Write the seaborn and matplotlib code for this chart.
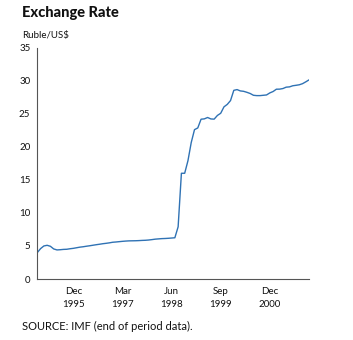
import matplotlib
matplotlib.use("Agg")
import matplotlib.pyplot as plt
import seaborn as sns
import pandas as pd

# Monthly end-of-period rubles per US dollar, Jan 1995 - Dec 2001
rate_1995 = [4.0, 4.6, 5.0, 5.1, 4.95, 4.55, 4.4, 4.43, 4.48, 4.5, 4.58, 4.64]
rate_1996 = [4.73, 4.82, 4.88, 4.96, 5.03, 5.11, 5.19, 5.26, 5.34, 5.40, 5.47, 5.56]
rate_1997 = [5.60, 5.65, 5.70, 5.74, 5.77, 5.78, 5.79, 5.81, 5.84, 5.86, 5.90, 5.96]
rate_1998 = [6.03, 6.07, 6.11, 6.13, 6.16, 6.20, 6.24, 7.9, 16.0, 16.0, 17.9, 20.65]
rate_1999 = [22.6, 22.86, 24.18, 24.23, 24.44, 24.22, 24.19, 24.75, 25.08, 26.05, 26.42, 27.0]
rate_2000 = [28.55, 28.66, 28.46, 28.4, 28.25, 28.07, 27.8, 27.75, 27.75, 27.8, 27.85, 28.16]
rate_2001 = [28.37, 28.72, 28.73, 28.82, 29.03, 29.07, 29.24, 29.31, 29.39, 29.56, 29.84, 30.14]

# Ticks every 15 months, counted from Jan 1995
tick_months = [11, 26, 41, 56, 71]
tick_labels = ["Dec\n1995", "Mar\n1997", "Jun\n1998", "Sep\n1999", "Dec\n2000"]
y_ticks = [0, 5, 10, 15, 20, 25, 30, 35]

rates = rate_1995 + rate_1996 + rate_1997 + rate_1998 + rate_1999 + rate_2000 + rate_2001
df = pd.DataFrame({"month": range(len(rates)), "rate": rates})

sns.set_style("white")
plt.rcParams["font.family"] = ["Lato", "DejaVu Sans"]

fig = plt.figure(figsize=(3.53, 3.40), dpi=100)
ax = fig.add_axes([0.1057, 0.1794, 0.7700, 0.6803])

sns.lineplot(data=df, x="month", y="rate", ax=ax, color="#2f72b4", linewidth=1.0)

ax.set_xlim(0, len(rates) - 1)
ax.set_ylim(0, 35)
ax.set_xticks(tick_months)
ax.set_xticklabels(tick_labels, fontsize=7, linespacing=1.5)
ax.set_yticks(y_ticks)
ax.set_yticklabels([str(v) for v in y_ticks], fontsize=7)
ax.set_xlabel("")
ax.set_ylabel("")

for side in ("top", "right"):
    ax.spines[side].set_visible(False)
for side in ("left", "bottom"):
    ax.spines[side].set_color("#555555")
    ax.spines[side].set_linewidth(0.8)
ax.tick_params(axis="both", direction="out", length=3, width=0.8, color="#555555",
               colors="#111111", pad=2)
ax.tick_params(axis="x", pad=3)

fig.text(0.062, 0.962, "Exchange Rate", fontsize=10.5, fontweight="black",
         color="#111111", va="center", ha="left")
fig.text(0.062, 0.897, "Ruble/US$", fontsize=7, color="#111111", va="center", ha="left")
fig.text(0.062, 0.040, "SOURCE: IMF (end of period data).", fontsize=8,
         color="#111111", va="center", ha="left")

fig.savefig("out.png", dpi=100)
